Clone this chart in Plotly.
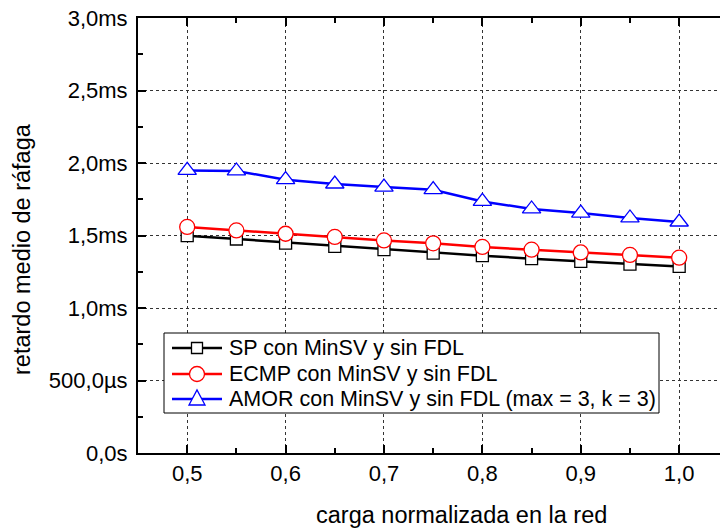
import plotly.graph_objects as go

# normalized network load
carga = [0.50, 0.55, 0.60, 0.65, 0.70, 0.75, 0.80, 0.85, 0.90, 0.95, 1.00]

# mean burst delay, in milliseconds
sp_minsv = [1.499, 1.476, 1.448, 1.425, 1.402, 1.379, 1.361, 1.340, 1.321, 1.303, 1.287]
ecmp_minsv = [1.559, 1.535, 1.512, 1.490, 1.466, 1.446, 1.421, 1.402, 1.383, 1.366, 1.347]
amor_minsv = [1.949, 1.945, 1.885, 1.855, 1.834, 1.816, 1.735, 1.683, 1.655, 1.621, 1.593]

series_names = [
    "SP con MinSV y sin FDL",
    "ECMP con MinSV y sin FDL",
    "AMOR con MinSV y sin FDL (max = 3, k = 3)",
]

x_tickvals = [0.5, 0.6, 0.7, 0.8, 0.9, 1.0]
x_ticktext = ["0,5", "0,6", "0,7", "0,8", "0,9", "1,0"]
y_tickvals = [0.0, 0.5, 1.0, 1.5, 2.0, 2.5, 3.0]
y_ticktext = ["0,0s", "500,0µs", "1,0ms", "1,5ms", "2,0ms", "2,5ms", "3,0ms"]

x_title = "carga normalizada en la red"
y_title = "retardo medio de ráfaga"

FONT = "Arial, 'Liberation Sans', sans-serif"
W, H = 720, 529
M_L, M_R, M_T, M_B = 138, 0, 18, 76
PLOT_W = W - M_L - M_R
PLOT_H = H - M_T - M_B

styles = [
    dict(color="black", symbol="square", size=12),
    dict(color="red", symbol="circle", size=15),
    dict(color="blue", symbol="triangle-up", size=16),
]

fig = go.Figure()
for name, ys, st in zip(series_names, [sp_minsv, ecmp_minsv, amor_minsv], styles):
    fig.add_trace(go.Scatter(
        x=carga, y=ys, name=name, mode="lines+markers", showlegend=False,
        line=dict(color=st["color"], width=2.5),
        marker=dict(symbol=st["symbol"], size=st["size"], color="white",
                    line=dict(color=st["color"], width=1.3)),
    ))

axis_common = dict(
    showline=True, linecolor="black", linewidth=2,
    ticks="inside", ticklen=8, tickwidth=2, tickcolor="black",
    showgrid=True, gridcolor="#333333", gridwidth=1, griddash="dot",
    zeroline=False,
    tickfont=dict(family=FONT, size=22, color="black"),
)

fig.update_xaxes(
    **axis_common,
    range=[0.45, 1.0415], tickvals=x_tickvals, ticktext=x_ticktext,
    mirror="ticks",
    minor=dict(ticks="inside", ticklen=5, tickwidth=2, tickcolor="black",
               tick0=0.45, dtick=0.05, showgrid=False),
)
fig.update_yaxes(
    **axis_common,
    range=[0, 3.0], tickvals=y_tickvals, ticktext=y_ticktext,
    mirror=False,
    minor=dict(ticks="inside", ticklen=5, tickwidth=2, tickcolor="black",
               tick0=0, dtick=0.25, showgrid=False),
    ticklabelstandoff=4,
)


# pixel -> paper coordinate helpers
def px_x(px):
    return (px - M_L) / PLOT_W


def px_y(py):
    return (H - M_B - py) / PLOT_H


shapes = []
annotations = []

# axis titles
annotations.append(dict(xref="paper", yref="paper", x=px_x(461), y=px_y(515),
                        xanchor="center", yanchor="middle", showarrow=False,
                        text=x_title, font=dict(family=FONT, size=23.5, color="black")))
annotations.append(dict(xref="paper", yref="paper", x=px_x(22), y=px_y(249),
                        xanchor="center", yanchor="middle", showarrow=False, textangle=-90,
                        text=y_title, font=dict(family=FONT, size=23.5, color="black")))

# legend box
box_l, box_r, box_t, box_b = 164, 659, 333, 413
shapes.append(dict(type="rect", xref="paper", yref="paper",
                   x0=px_x(box_l), x1=px_x(box_r), y0=px_y(box_b), y1=px_y(box_t),
                   line=dict(color="black", width=1), fillcolor="white", layer="above"))

row_y = [348, 374, 399]
line_x0, line_x1, sym_x, text_x = 172, 222, 197, 227
for name, st, ry in zip(series_names, styles, row_y):
    c = st["color"]
    shapes.append(dict(type="line", xref="paper", yref="paper",
                       x0=px_x(line_x0), x1=px_x(line_x1), y0=px_y(ry), y1=px_y(ry),
                       line=dict(color=c, width=2.5), layer="above"))
    if st["symbol"] == "square":
        h = 5.5
        shapes.append(dict(type="rect", xref="paper", yref="paper",
                           x0=px_x(sym_x - h), x1=px_x(sym_x + h),
                           y0=px_y(ry + h), y1=px_y(ry - h),
                           line=dict(color=c, width=1.3), fillcolor="white", layer="above"))
    elif st["symbol"] == "circle":
        r = 7.5
        shapes.append(dict(type="circle", xref="paper", yref="paper",
                           x0=px_x(sym_x - r), x1=px_x(sym_x + r),
                           y0=px_y(ry + r), y1=px_y(ry - r),
                           line=dict(color=c, width=1.3), fillcolor="white", layer="above"))
    else:
        hw, top, bot = 8, -9, 6
        path = (f"M {px_x(sym_x - hw)} {px_y(ry + bot)} "
                f"L {px_x(sym_x + hw)} {px_y(ry + bot)} "
                f"L {px_x(sym_x)} {px_y(ry + top)} Z")
        shapes.append(dict(type="path", xref="paper", yref="paper", path=path,
                           line=dict(color=c, width=1.3), fillcolor="white", layer="above"))
    annotations.append(dict(xref="paper", yref="paper", x=px_x(text_x), y=px_y(ry),
                            xanchor="left", yanchor="middle", showarrow=False,
                            text=name, font=dict(family=FONT, size=21.5, color="black")))

fig.update_layout(
    width=W, height=H,
    margin=dict(l=M_L, r=M_R, t=M_T, b=M_B),
    paper_bgcolor="white", plot_bgcolor="white",
    font=dict(family=FONT, color="black"),
    shapes=shapes, annotations=annotations,
    showlegend=False,
)

fig.write_html("out.html")
